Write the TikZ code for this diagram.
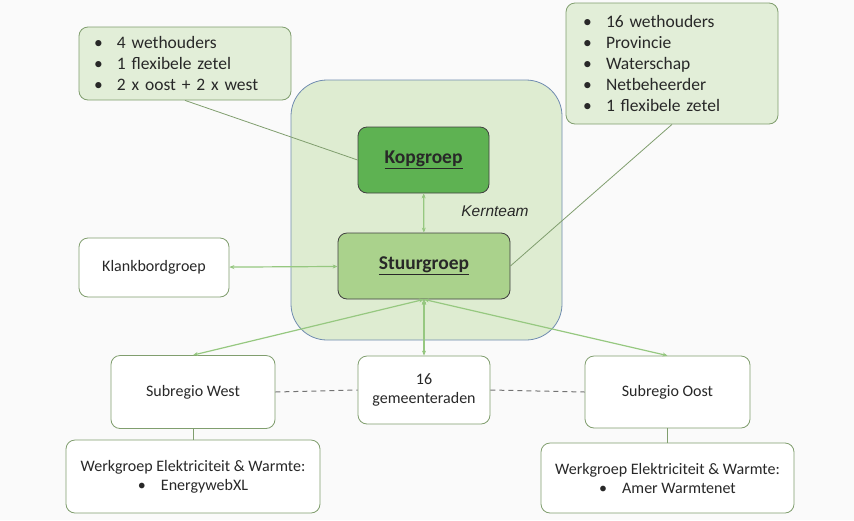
\documentclass[tikz,border=0pt]{standalone}
\usepackage{fontspec}
\setmainfont{Carlito}
\newfontfamily\kernfont{Liberation Sans}
\usetikzlibrary{arrows.meta}

\definecolor{bgcol}{RGB}{250,250,250}
\definecolor{infofill}{RGB}{226,238,216}
\definecolor{boxline}{RGB}{128,158,110}
\definecolor{kernfill}{RGB}{222,236,209}
\definecolor{kernline}{RGB}{112,140,176}
\definecolor{kopfill}{RGB}{94,178,82}
\definecolor{stuurfill}{RGB}{170,210,140}
\definecolor{arrowcol}{RGB}{150,200,128}
\definecolor{textcol}{RGB}{40,40,40}

\newcommand{\bul}[1]{\makebox[23pt][l]{\textbullet}#1}

\begin{document}
\begin{tikzpicture}[x=1pt, y=-1pt, text=textcol,
        font=\fontsize{16}{19}\selectfont,
        box/.style={draw=boxline, rounded corners=9pt, fill=white, line width=0.8pt, align=center},
        info/.style={box, fill=infofill, align=left, inner ysep=0pt,
            font=\fontsize{17.5}{21}\selectfont},
        group/.style={draw=black!75, rounded corners=9pt, line width=0.8pt,
            font=\fontsize{19.5}{22}\selectfont\bfseries},
        link/.style={draw=boxline, line width=0.8pt},
        flow/.style={draw=arrowcol, line width=1.2pt, {Stealth[length=5pt,width=4pt]}-{Stealth[length=5pt,width=4pt]}}]
        \useasboundingbox[fill=bgcol] (0,0) rectangle (854,520);

        % kernteam
        \node[draw=kernline, fill=kernfill, rounded corners=36pt, line width=0.8pt,
            minimum width=271pt, minimum height=260pt](Kern) at (426.5,210){};
        \node[font=\kernfont\itshape\fontsize{15.5}{18}\selectfont](KernLabel) at (495,211){Kernteam};

        \node[group, fill=kopfill, minimum width=131pt, minimum height=66pt](Kop) at (423.5,160){\underline{Kopgroep}};
        \node[group, fill=stuurfill, minimum width=172pt, minimum height=66pt](Stuur) at (424,266){\underline{Stuurgroep}};

        % info boxes
        \node[info, text width=182pt, inner xsep=15pt, minimum height=73pt](InfoKop) at (185,63.5){%
            \bul{4 wethouders}\\ \bul{1 flexibele zetel}\\ \bul{2 x oost + 2 x west}};
        \node[info, text width=178pt, inner xsep=17pt, minimum height=121pt](InfoStuur) at (672,63.5){%
            \bul{16 wethouders}\\ \bul{Provincie}\\ \bul{Waterschap}\\ \bul{Netbeheerder}\\ \bul{1 flexibele zetel}};

        \path[link](InfoKop.south) edge (Kop.west);
        \path[link](InfoStuur.south) edge (Stuur.east);

        % omgeving
        \node[box, minimum width=150pt, minimum height=59pt](Klank) at (154,267.5){Klankbordgroep};
        \node[box, minimum width=164pt, minimum height=73pt](West) at (193,392){Subregio West};
        \node[box, minimum width=132pt, minimum height=68pt](Gem) at (424,390){16\\ gemeenteraden};
        \node[box, minimum width=165pt, minimum height=72pt](Oost) at (667.5,392){Subregio Oost};
        \node[box, minimum width=254pt, minimum height=73pt](WerkWest) at (193,476.5){%
            Werkgroep Elektriciteit \& Warmte:\\ \bul{EnergywebXL}};
        \node[box, minimum width=253pt, minimum height=70pt](WerkOost) at (667.5,478){%
            Werkgroep Elektriciteit \& Warmte:\\ \bul{Amer Warmtenet}};

        \path[flow](Kop) edge (Stuur);
        \path[flow](Klank) edge (Stuur);
        \path[flow](Stuur.south) edge (West.north);
        \path[flow](Stuur.south) edge (Gem.north);
        \path[flow](Stuur.south) edge (Oost.north);

        \path[link, draw=black!55, line width=1pt, dash pattern=on 5pt off 4pt](West.east) edge (Gem.west);
        \path[link, draw=black!55, line width=1pt, dash pattern=on 5pt off 4pt](Gem.east) edge (Oost.west);
        \path[link](West) edge (WerkWest);
        \path[link](Oost) edge (WerkOost);

    \end{tikzpicture}
\end{document}
